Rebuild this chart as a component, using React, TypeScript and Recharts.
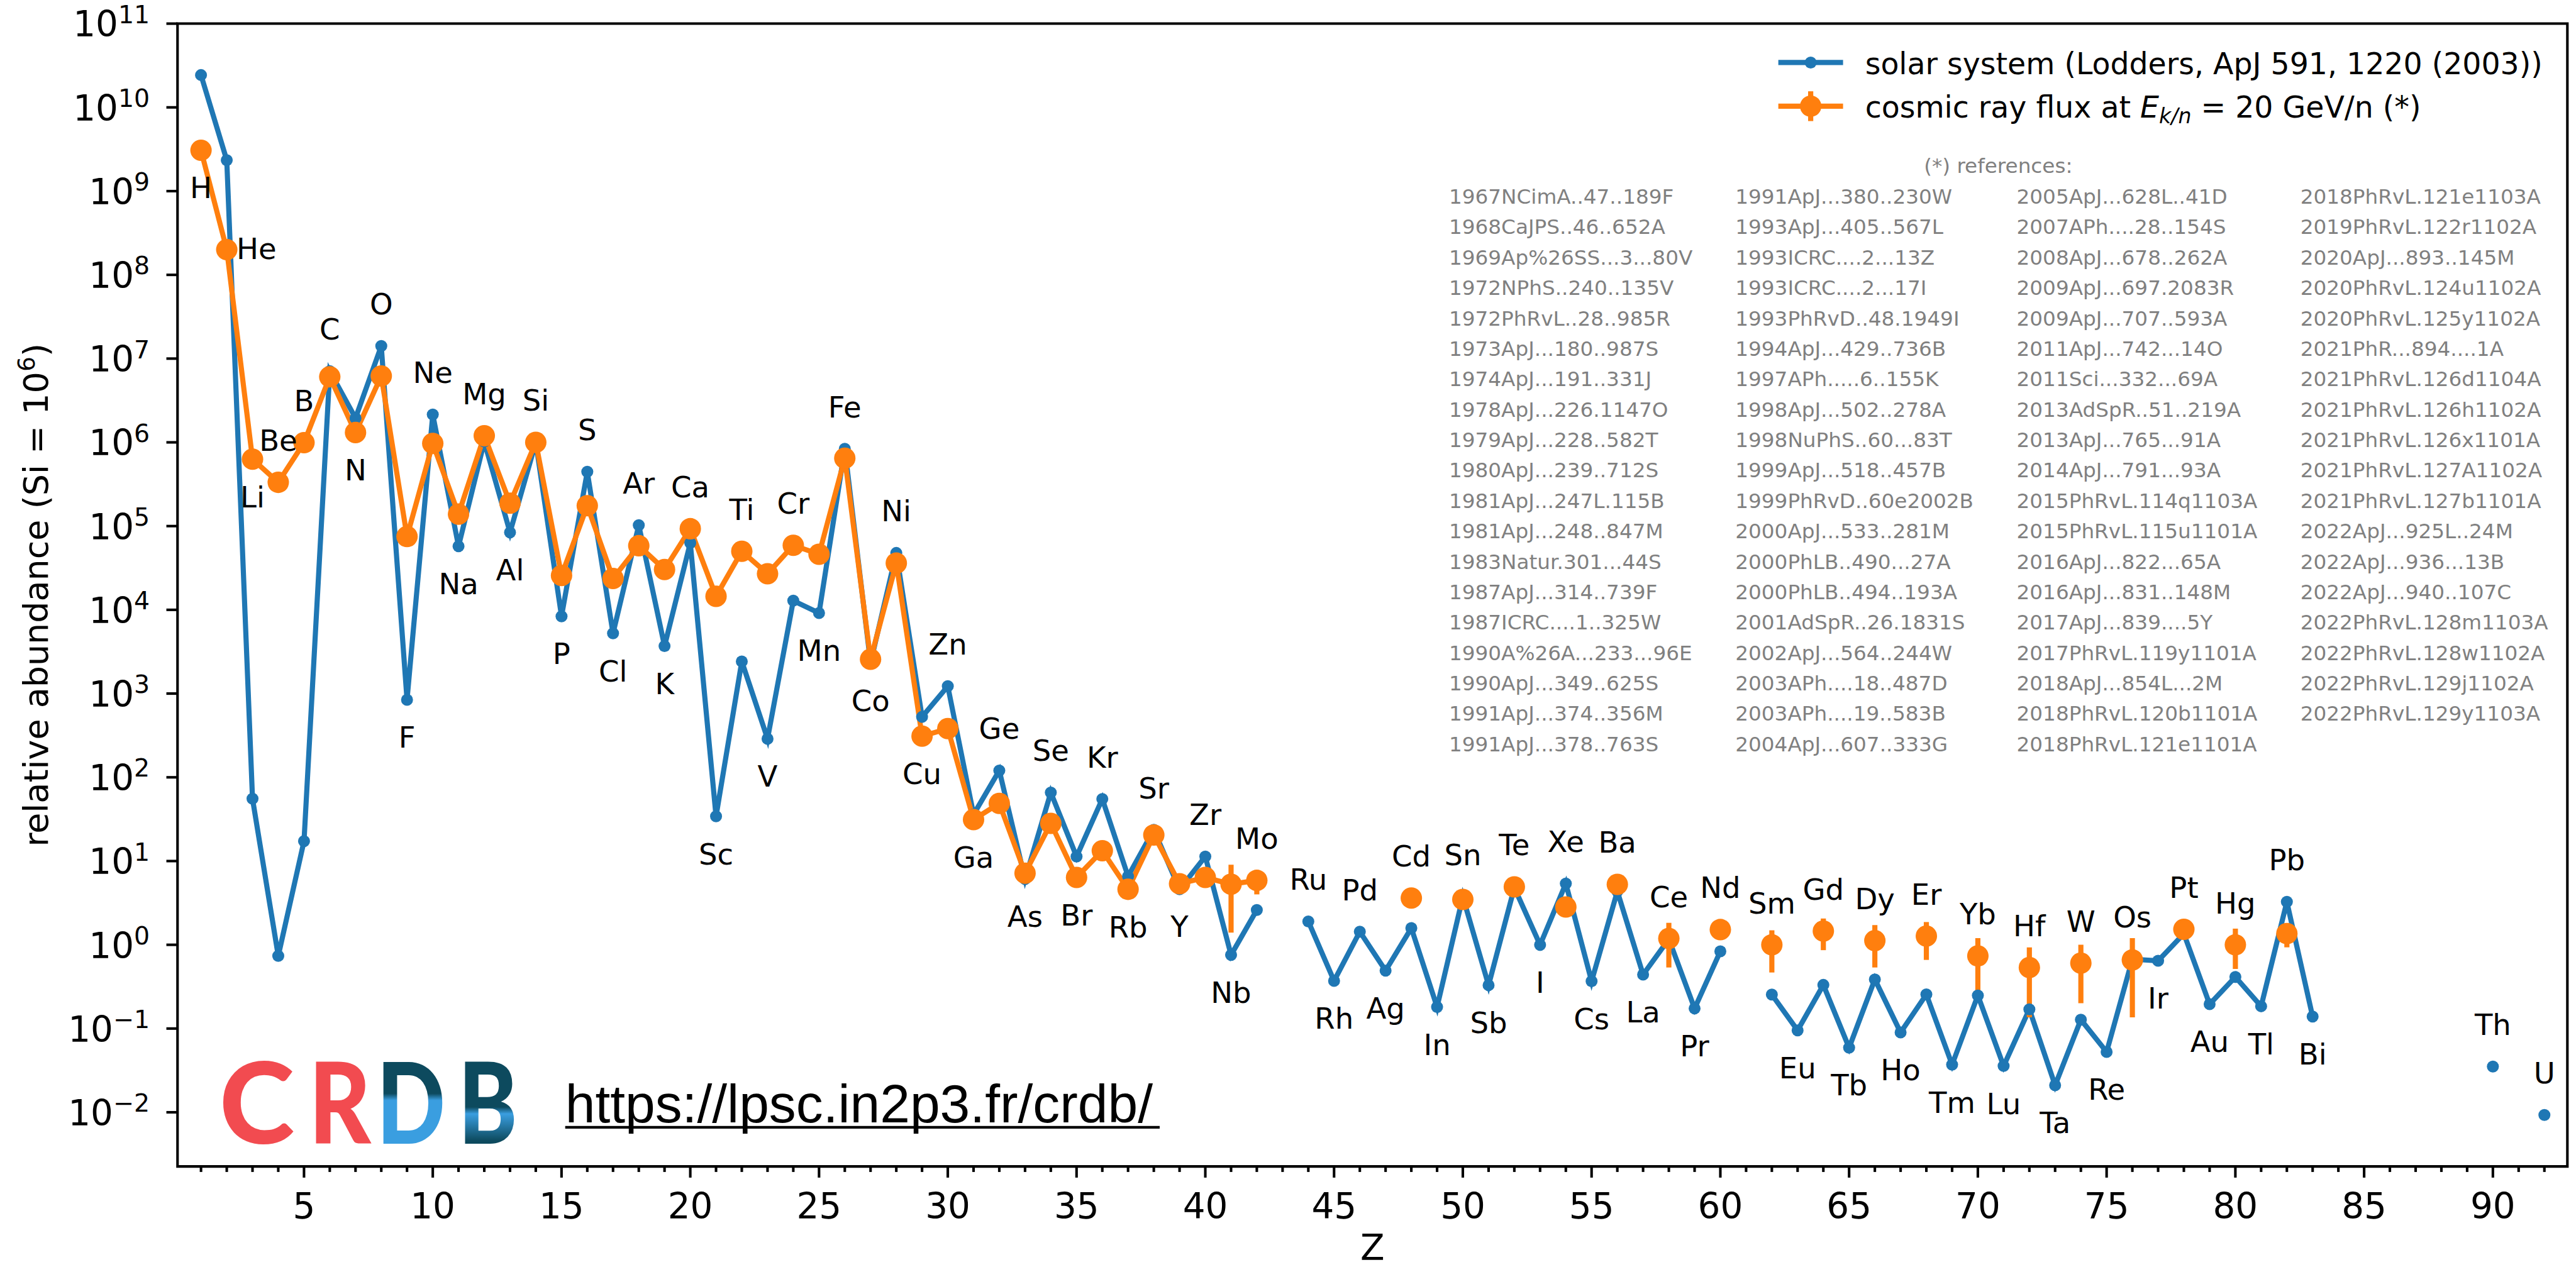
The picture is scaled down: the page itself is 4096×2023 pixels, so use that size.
import React from "react";
import { ComposedChart, Line, Scatter, XAxis, YAxis, ErrorBar, ReferenceArea } from "recharts";

// everything is measured on the 5009px reference and scaled by S
const S = 0.817;
const W = 4096;
const H = 2023;
const BLUE = "#1f77b4";
const ORANGE = "#ff7f0e";
const FONT = "DejaVu Sans, sans-serif";

const X_MIN = 0.088;
const X_MAX = 92.893;
const Y_MIN = Math.pow(10, -2.647);
const Y_MAX = 1e11;

const ELEMENTS = (
  "H He Li Be B C N O F Ne Na Mg Al Si P S Cl Ar K Ca Sc Ti V Cr Mn Fe Co Ni Cu Zn " +
  "Ga Ge As Se Br Kr Rb Sr Y Zr Nb Mo Tc Ru Rh Pd Ag Cd In Sn Sb Te I Xe Cs Ba La Ce Pr Nd " +
  "Pm Sm Eu Gd Tb Dy Ho Er Tm Yb Lu Hf Ta W Re Os Ir Pt Au Hg Tl Pb Bi Po At Rn Fr Ra Ac Th Pa U"
).split(" ");

// solar system abundances (Si = 1e6), Z = 1..92
const SOLAR = [
  2.431e10, 2.343e9, 55.47, 0.7374, 17.32, 7.079e6, 1.95e6, 1.413e7, 841.1, 2.148e6,
  5.751e4, 1.02e6, 8.41e4, 1.0e6, 8373, 4.449e5, 5237, 1.025e5, 3692, 6.287e4,
  34.2, 2422, 288.4, 1.286e4, 9168, 8.38e5, 2323, 4.78e4, 527, 1226,
  35.97, 120.6, 6.089, 65.79, 11.32, 55.15, 6.572, 23.64, 4.608, 11.33,
  0.7554, 2.601, null, 1.9, 0.3708, 1.435, 0.4913, 1.584, 0.181, 3.733,
  0.3292, 4.815, 0.9975, 5.391, 0.3671, 4.351, 0.4405, 1.169, 0.1737, 0.8355,
  null, 0.2542, 0.09513, 0.3321, 0.05907, 0.3862, 0.08986, 0.2554, 0.037, 0.2484,
  0.03572, 0.1699, 0.02099, 0.1277, 0.05254, 0.6738, 0.6448, 1.357, 0.1955, 0.4128,
  0.1845, 3.258, 0.1388, null, null, null, null, null, null, 0.03512,
  null, 0.009306,
];

// cosmic ray flux at 20 GeV/n, Z = 1..92
const COSMIC = [
  3.07e9, 2.0e8, 6.29e5, 3.33e5, 9.9e5, 6.07e6, 1.31e6, 6.19e6, 7.5e4, 9.7e5,
  1.39e5, 1.2e6, 1.88e5, 1.0e6, 2.57e4, 1.75e5, 2.37e4, 5.83e4, 3.03e4, 9.3e4,
  1.45e4, 5.0e4, 2.7e4, 5.89e4, 4.61e4, 6.47e5, 2570, 3.61e4, 310, 382,
  31.3, 48.8, 7.17, 28.2, 6.38, 13.3, 4.6, 20.5, 5.36, 6.38,
  5.29, 5.88, null, null, null, null, null, 3.62, null, 3.48,
  null, 4.92, null, 2.83, null, 5.27, null, 1.19, null, 1.52,
  null, 1.0, null, 1.46, null, 1.12, null, 1.27, null, 0.736,
  null, 0.536, null, 0.604, null, 0.66, null, 1.53, null, 1.0,
  null, 1.36, null, null, null, null, null, null, null, null,
  null, null,
];

// error bars of the cosmic ray points (lower / upper bound)
const ERR_Z = [41, 42, 58, 62, 64, 66, 68, 70, 72, 74, 76, 80, 82];
const ERR_LO = [1.4, 4.0, 0.536, 0.467, 0.863, 0.536, 0.66, 0.271, 0.136, 0.201, 0.136, 0.515, 0.933];
const ERR_HI = [9.06, 7.6, 1.83, 1.49, 2.06, 1.72, 1.87, 1.2, 0.933, 1.0, 1.2, 1.56, 1.77];

// label side per Z: u above, d below, D below the cosmic ray point, r right, - none
const LABEL_SIDE = [
  "drDuuududu", "dududududu", "dududududu", "dududududu", "du-udududu",
  "dududududu", "-ududududu", "dududududu", "dud------u", "-u",
].join("");

const Y_TICKS = [0.01, 0.1, 1, 10, 100, 1e3, 1e4, 1e5, 1e6, 1e7, 1e8, 1e9, 1e10, 1e11];
const X_TICKS = Array.from({ length: 92 }, (_, i) => i + 1);

const REFS = [
  ["1967NCimA..47..189F", "1968CaJPS..46..652A", "1969Ap%26SS...3...80V", "1972NPhS..240..135V",
    "1972PhRvL..28..985R", "1973ApJ...180..987S", "1974ApJ...191..331J", "1978ApJ...226.1147O",
    "1979ApJ...228..582T", "1980ApJ...239..712S", "1981ApJ...247L.115B", "1981ApJ...248..847M",
    "1983Natur.301...44S", "1987ApJ...314..739F", "1987ICRC....1..325W", "1990A%26A...233...96E",
    "1990ApJ...349..625S", "1991ApJ...374..356M", "1991ApJ...378..763S"],
  ["1991ApJ...380..230W", "1993ApJ...405..567L", "1993ICRC....2...13Z", "1993ICRC....2...17I",
    "1993PhRvD..48.1949I", "1994ApJ...429..736B", "1997APh.....6..155K", "1998ApJ...502..278A",
    "1998NuPhS..60...83T", "1999ApJ...518..457B", "1999PhRvD..60e2002B", "2000ApJ...533..281M",
    "2000PhLB..490...27A", "2000PhLB..494..193A", "2001AdSpR..26.1831S", "2002ApJ...564..244W",
    "2003APh....18..487D", "2003APh....19..583B", "2004ApJ...607..333G"],
  ["2005ApJ...628L..41D", "2007APh....28..154S", "2008ApJ...678..262A", "2009ApJ...697.2083R",
    "2009ApJ...707..593A", "2011ApJ...742...14O", "2011Sci...332...69A", "2013AdSpR..51..219A",
    "2013ApJ...765...91A", "2014ApJ...791...93A", "2015PhRvL.114q1103A", "2015PhRvL.115u1101A",
    "2016ApJ...822...65A", "2016ApJ...831..148M", "2017ApJ...839....5Y", "2017PhRvL.119y1101A",
    "2018ApJ...854L...2M", "2018PhRvL.120b1101A", "2018PhRvL.121e1101A"],
  ["2018PhRvL.121e1103A", "2019PhRvL.122r1102A", "2020ApJ...893..145M", "2020PhRvL.124u1102A",
    "2020PhRvL.125y1102A", "2021PhR...894....1A", "2021PhRvL.126d1104A", "2021PhRvL.126h1102A",
    "2021PhRvL.126x1101A", "2021PhRvL.127A1102A", "2021PhRvL.127b1101A", "2022ApJ...925L..24M",
    "2022ApJ...936...13B", "2022ApJ...940..107C", "2022PhRvL.128m1103A", "2022PhRvL.128w1102A",
    "2022PhRvL.129j1102A", "2022PhRvL.129y1103A"],
];

const solarData = X_TICKS.map((z) => ({ z, v: SOLAR[z - 1] }));
const cosmicData = X_TICKS.map((z) => {
  const v = COSMIC[z - 1];
  const k = ERR_Z.indexOf(z);
  return { z, v, err: v != null && k >= 0 ? [v - ERR_LO[k], ERR_HI[k] - v] : undefined };
});
const labelData = X_TICKS.filter((z) => LABEL_SIDE[z - 1] !== "-").map((z) => {
  const side = LABEL_SIDE[z - 1];
  const vals = [SOLAR[z - 1], COSMIC[z - 1]].filter((v) => v != null) as number[];
  let anchor = side === "u" ? Math.max(...vals) : Math.min(...vals);
  if (side === "D" || side === "r") anchor = COSMIC[z - 1] as number;
  return { z, anchor, side, name: ELEMENTS[z - 1] };
});

// sizes
const LW = 10 * S;
const TICK_W = 5 * S;
const MAJOR_LEN = 21.7 * S;
const MINOR_LEN = 10.7 * S;
const TICK_FS = 69 * S;
const LABEL_FS = 57 * S;

const PLOT_LEFT = 345.5 * S;
const PLOT_TOP = 46 * S;
const PLOT_RIGHT = 4996.7 * S;
const PLOT_BOTTOM = 2270.7 * S;

const XTick = (props: any) => {
  const { x, y, payload } = props;
  const z = payload.value;
  const major = z % 5 === 0;
  return (
    <g>
      <line x1={x} x2={x} y1={y} y2={y + (major ? MAJOR_LEN : MINOR_LEN)} stroke="#000" strokeWidth={TICK_W} />
      {major && (
        <text x={x} y={y + 101 * S} textAnchor="middle" fontSize={TICK_FS} fontFamily={FONT} fill="#000">
          {z}
        </text>
      )}
    </g>
  );
};

const YTick = (props: any) => {
  const { x, y, payload } = props;
  const e = Math.round(Math.log10(payload.value));
  const exp = e < 0 ? "\u2212" + Math.abs(e) : String(e);
  return (
    <g>
      <line x1={x - MAJOR_LEN} x2={x} y1={y} y2={y} stroke="#000" strokeWidth={TICK_W} />
      <text x={x - 54 * S} y={y + 25.6 * S} textAnchor="end" fontSize={TICK_FS} fontFamily={FONT} fill="#000">
        <tspan>10</tspan>
        <tspan dy={-26.6 * S} fontSize={TICK_FS * 0.7}>{exp}</tspan>
      </text>
    </g>
  );
};

const ElementLabel = (props: any) => {
  const { cx, cy, payload } = props;
  if (cx == null || cy == null) return <g />;
  const base = 0.3645 * LABEL_FS;
  if (payload.side === "r") {
    return (
      <text x={cx + 19 * S} y={cy - 3 * S + base} textAnchor="start" fontSize={LABEL_FS} fontFamily={FONT} fill="#000">
        {payload.name}
      </text>
    );
  }
  const dy = payload.side === "u" ? -82 * S : 72.5 * S;
  return (
    <text x={cx} y={cy + dy + base} textAnchor="middle" fontSize={LABEL_FS} fontFamily={FONT} fill="#000">
      {payload.name}
    </text>
  );
};

const Overlay = () => {
  const refFs = 40 * S;
  const colX = [2820, 3377.3, 3924.8, 4477];
  const legFs = 58 * S;
  const lx1 = 3461 * S;
  const lx2 = 3587 * S;
  const lxm = 3524 * S;
  const ly1 = 121.7 * S;
  const ly2 = 206.7 * S;
  const tx = 3630 * S;
  return (
    <svg width={W} height={H} style={{ position: "absolute", left: 0, top: 0, pointerEvents: "none" }}>
      <defs>
        <linearGradient id="gD" x1="0" y1="0" x2="0" y2="1">
          <stop offset="0" stopColor="#0d4a5e" />
          <stop offset="0.45" stopColor="#0d4a5e" />
          <stop offset="0.5" stopColor="#3a9ee0" />
          <stop offset="1" stopColor="#3a9ee0" />
        </linearGradient>
        <linearGradient id="gB" x1="0" y1="0" x2="0" y2="1">
          <stop offset="0" stopColor="#0d4a5e" />
          <stop offset="0.55" stopColor="#0d4a5e" />
          <stop offset="0.6" stopColor="#3a9ee0" />
          <stop offset="0.8" stopColor="#0d4a5e" />
          <stop offset="1" stopColor="#0d4a5e" />
        </linearGradient>
      </defs>

      {/* legend */}
      <line x1={lx1} x2={lx2} y1={ly1} y2={ly1} stroke={BLUE} strokeWidth={LW} />
      <circle cx={lxm} cy={ly1} r={11.65 * S} fill={BLUE} />
      <line x1={lx1} x2={lx2} y1={ly2} y2={ly2} stroke={ORANGE} strokeWidth={LW} />
      <line x1={lxm} x2={lxm} y1={ly2 - 29 * S} y2={ly2 + 29 * S} stroke={ORANGE} strokeWidth={LW} />
      <circle cx={lxm} cy={ly2} r={20.85 * S} fill={ORANGE} />
      <text x={tx} y={144.3 * S} fontSize={legFs} fontFamily={FONT} fill="#000">
        solar system (Lodders, ApJ 591, 1220 (2003))
      </text>
      <text x={tx} y={228.3 * S} fontSize={legFs} fontFamily={FONT} fill="#000">
        <tspan>cosmic ray flux at </tspan>
        <tspan fontStyle="italic">E</tspan>
        <tspan fontStyle="italic" fontSize={legFs * 0.7} dy={0.2 * legFs}>k/n</tspan>
        <tspan dy={-0.2 * legFs}> = 20 GeV/n (*)</tspan>
      </text>

      {/* references */}
      <text x={3889 * S} y={336 * S} textAnchor="middle" fontSize={refFs} fontFamily={FONT} fill="#808080">
        (*) references:
      </text>
      {REFS.map((col, c) =>
        col.map((r, i) => (
          <text key={c + "-" + i} x={colX[c] * S} y={(396.7 + i * 59.2) * S} fontSize={refFs} fontFamily={FONT} fill="#808080">
            {r}
          </text>
        ))
      )}

      {/* axis labels */}
      <text
        x={93 * S}
        y={1158.4 * S}
        transform={`rotate(-90, ${93 * S}, ${1158.4 * S})`}
        textAnchor="middle"
        fontSize={66 * S}
        fontFamily={FONT}
        fill="#000"
      >
        <tspan>relative abundance (Si = 10</tspan>
        <tspan dy={-0.385 * 66 * S} fontSize={66 * S * 0.7}>6</tspan>
        <tspan dy={0.385 * 66 * S}>)</tspan>
      </text>
      <text x={2671 * S} y={2453 * S} textAnchor="middle" fontSize={TICK_FS} fontFamily={FONT} fill="#000">
        Z
      </text>

      {/* CRDB logo */}
      <g fontFamily="Lato, Open Sans, sans-serif" fontWeight={900} fontSize={219 * S}>
        <text x={427 * S} y={2227 * S} textLength={146 * S} lengthAdjust="spacingAndGlyphs" fill="#f24b50">C</text>
        <text x={601 * S} y={2227 * S} textLength={121 * S} lengthAdjust="spacingAndGlyphs" fill="#f24b50">R</text>
        <text x={733 * S} y={2227 * S} textLength={134 * S} lengthAdjust="spacingAndGlyphs" fill="url(#gD)">D</text>
        <text x={892 * S} y={2227 * S} textLength={115 * S} lengthAdjust="spacingAndGlyphs" fill="url(#gB)">B</text>
      </g>
      <text x={1100 * S} y={2185 * S} fontSize={105 * S} fontFamily="Liberation Sans, Arial, sans-serif" fill="#000">
        https://lpsc.in2p3.fr/crdb/
      </text>
      <line x1={1100 * S} x2={2257 * S} y1={2194.5 * S} y2={2194.5 * S} stroke="#000" strokeWidth={5 * S} />
    </svg>
  );
};

export default function App() {
  return (
    <div style={{ position: "absolute", left: 0, top: 0, width: W, height: H, background: "#fff" }}>
      <ComposedChart
        width={W}
        height={H}
        margin={{ top: PLOT_TOP, left: PLOT_LEFT - 100, right: W - PLOT_RIGHT, bottom: H - PLOT_BOTTOM - 100 }}
      >
        <XAxis
          type="number"
          dataKey="z"
          domain={[X_MIN, X_MAX]}
          allowDataOverflow
          ticks={X_TICKS}
          interval={0}
          height={100}
          tickSize={0}
          tickMargin={0}
          tickLine={false}
          axisLine={false}
          tick={XTick}
        />
        <YAxis
          type="number"
          scale="log"
          domain={[Y_MIN, Y_MAX]}
          allowDataOverflow
          ticks={Y_TICKS}
          interval={0}
          width={100}
          tickSize={0}
          tickMargin={0}
          tickLine={false}
          axisLine={false}
          tick={YTick}
        />
        <Line
          data={solarData}
          dataKey="v"
          type="linear"
          stroke={BLUE}
          strokeWidth={LW}
          dot={{ r: 11.65 * S, fill: BLUE, stroke: "none" }}
          activeDot={false}
          isAnimationActive={false}
          connectNulls={false}
        />
        <Line
          data={cosmicData}
          dataKey="v"
          type="linear"
          stroke={ORANGE}
          strokeWidth={LW}
          dot={{ r: 20.85 * S, fill: ORANGE, stroke: "none" }}
          activeDot={false}
          isAnimationActive={false}
          connectNulls={false}
        >
          <ErrorBar dataKey="err" direction="y" width={0} stroke={ORANGE} strokeWidth={LW} isAnimationActive={false} />
        </Line>
        <Scatter data={labelData} dataKey="anchor" shape={ElementLabel} isAnimationActive={false} />
        <ReferenceArea
          x1={X_MIN}
          x2={X_MAX}
          y1={Y_MIN}
          y2={Y_MAX}
          fill="none"
          stroke="#000"
          strokeWidth={TICK_W}
          ifOverflow="visible"
        />
      </ComposedChart>
      <Overlay />
    </div>
  );
}
